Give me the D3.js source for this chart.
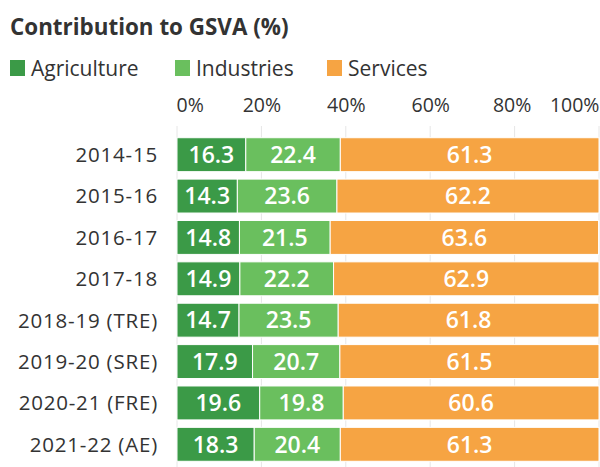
<!DOCTYPE html>
<html><head><meta charset="utf-8">
<script src="https://cdn.jsdelivr.net/npm/d3@7"></script>
<style>body{margin:0;background:#fff;font-family:"Open Sans",Lato,sans-serif;}</style>
</head><body><svg id="c" width="600" height="467"></svg>
<script>
const categories = ["2014-15","2015-16","2016-17","2017-18","2018-19 (TRE)","2019-20 (SRE)","2020-21 (FRE)","2021-22 (AE)"];
const series = ["Agriculture","Industries","Services"];
const agriculture = [16.3,14.3,14.8,14.9,14.7,17.9,19.6,18.3];
const industries = [22.4,23.6,21.5,22.2,23.5,20.7,19.8,20.4];
const services = [61.3,62.2,63.6,62.9,61.8,61.5,60.6,61.3];
const tickValues = [0,20,40,60,80,100];
const colors = ["#3b9a47","#6abf5e","#f6a443"];

const svg = d3.select("#c");
const txt = "#333";
svg.append("text").attr("x",10).attr("y",35).attr("font-size",22.4).attr("font-weight",700).attr("fill",txt).text("Contribution to GSVA (%)");

// legend
const legX = [10,175,327];
series.forEach((s,i)=>{
  const g = svg.append("g").attr("transform",`translate(${legX[i]},60)`);
  g.append("rect").attr("width",15).attr("height",16).attr("fill",colors[i]);
  g.append("text").attr("x",21).attr("y",16).attr("font-size",21).attr("fill",txt).text(s);
});

const x = d3.scaleLinear().domain([0,100]).range([177,599]);
const y = d3.scaleBand().domain(categories).range([134,465]).paddingInner(0.18).paddingOuter(0.09);

// grid
svg.append("g").selectAll("line").data(tickValues).join("line")
  .attr("x1",d=>x(d)).attr("x2",d=>x(d)).attr("y1",126).attr("y2",467)
  .attr("stroke","#e6e6e6").attr("stroke-width",1);

// axis labels
const ax = d3.axisTop(x).tickValues(tickValues).tickFormat(d=>d+"%").tickSize(0);
const axg = svg.append("g").attr("transform","translate(0,115)").call(ax);
axg.select(".domain").remove();
axg.selectAll("text").attr("font-size",19.5).attr("font-family","'Open Sans',Lato,sans-serif").attr("fill",txt)
  .attr("text-anchor",(d,i)=> i===0?"start":(i===tickValues.length-1?"end":"middle"))
  .attr("dx",(d,i)=> i===0?"-1":(i===tickValues.length-1?"0":(d===80?"-3":"0")));

const rows = categories.map((c,i)=>({cat:c, vals:[agriculture[i],industries[i],services[i]]}));
const stack = [];
rows.forEach(r=>{
  let acc=0;
  r.vals.forEach((v,j)=>{ stack.push({cat:r.cat,j,x0:acc,x1:acc+v,v}); acc+=v; });
});

svg.append("g").selectAll("rect").data(stack).join("rect")
  .attr("x",d=>x(d.x0)).attr("width",d=>Math.min(x(d.x1),x(100))-x(d.x0))
  .attr("y",d=>y(d.cat)).attr("height",y.bandwidth())
  .attr("fill",d=>colors[d.j]).attr("stroke","#fff").attr("stroke-width",1);

svg.append("g").selectAll("text").data(stack).join("text")
  .attr("x",d=>(x(d.x0)+Math.min(x(d.x1),x(100)))/2).attr("y",d=>y(d.cat)+y.bandwidth()/2)
  .attr("dy","0.36em").attr("text-anchor","middle").attr("font-size",23).attr("font-weight",600)
  .attr("fill","#fff").text(d=>d.v.toFixed(1));

svg.append("g").selectAll("text").data(categories).join("text")
  .attr("x",158).attr("y",d=>y(d)+y.bandwidth()/2).attr("dy","0.36em")
  .attr("text-anchor","end").attr("font-size",20.5).attr("letter-spacing",0.8).attr("fill",txt).text(d=>d);
</script></body></html>
